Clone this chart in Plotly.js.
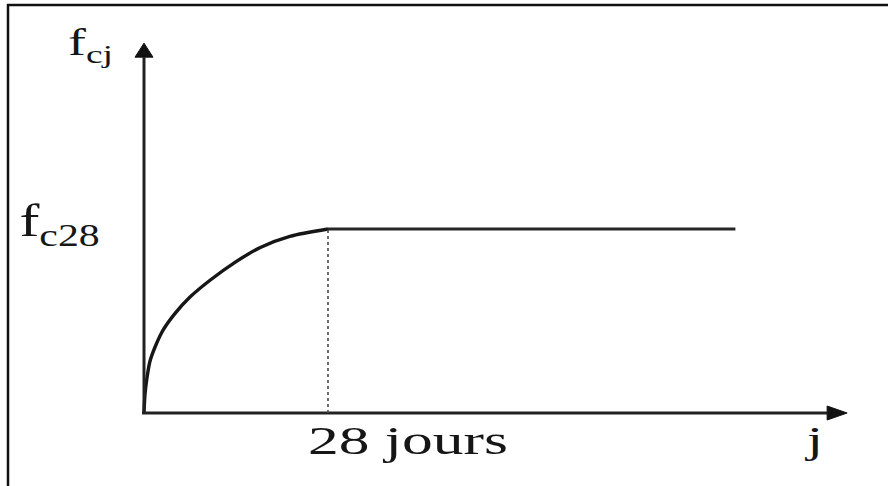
<!DOCTYPE html>
<html>
<head>
<meta charset="utf-8">
<script src="https://cdn.plot.ly/plotly-3.0.1.min.js"></script>
<style>
  html, body { margin: 0; padding: 0; background: #fff; }
  #chart { width: 888px; height: 486px; }
</style>
</head>
<body>
<div id="chart"></div>
<script>
// Concrete strength growth with age: fcj rises to fc28 at 28 days, then stays flat.
const days = [0, 0.15, 0.45, 0.9, 1.7, 2.9, 4.7, 7, 10, 13.9, 17.7, 22.2, 28, 90];
const fcjRatio = [0, 0.10, 0.19, 0.28, 0.36, 0.45, 0.54, 0.63, 0.72, 0.82, 0.90, 0.96, 1.0, 1.0];

const refDay = 28;          // age where fcj reaches fc28
const refValue = 1.0;       // fc28 (relative)
const xAxisEnd = 107;       // arrow tip of the age axis (days)
const yAxisEnd = 2.01;      // arrow tip of the strength axis

const yLabel = 'f<sub>cj</sub>';
const refLabel = 'f<sub>c28</sub>';
const refDayLabel = '28 jours';
const xLabel = 'j';

const ink = '#161616';
const axisInk = '#222';
const serif = 'Liberation Serif';

const W = 888, H = 486;
const xRange = [-21.913, 113.22];
const yRange = [-0.3967, 2.2446];
const pxX = W / (xRange[1] - xRange[0]);   // pixels per day
const pxY = H / (yRange[1] - yRange[0]);   // pixels per unit of fcj/fc28

const iRef = days.indexOf(refDay);

const rise = {
  x: days.slice(0, iRef + 1),
  y: fcjRatio.slice(0, iRef + 1),
  mode: 'lines',
  line: { color: ink, width: 3.4, shape: 'spline', smoothing: 0.8 },
  hoverinfo: 'skip'
};
const plateau = {
  x: days.slice(iRef),
  y: fcjRatio.slice(iRef),
  mode: 'lines',
  line: { color: '#262626', width: 3 },
  hoverinfo: 'skip'
};

// arrowhead sizes in pixels, converted to axis units
const xHeadLen = 20 / pxX, xHeadHalf = 7 / pxY;
const yHeadLen = 14 / pxY, yHeadHalf = 9 / pxX;

function tri(ax, ay, bx, by, cx, cy) {
  return 'M' + ax + ',' + ay + ' L' + bx + ',' + by + ' L' + cx + ',' + cy + ' Z';
}

// horizontal stretch applied to each label after drawing
const stretch = [1.45, 1.3, 1.5, 1.5];

const annotations = [
  { x: 0, y: yAxisEnd, xanchor: 'right', yanchor: 'middle', xshift: -29, yshift: -2,
    text: yLabel, showarrow: false, font: { family: serif, size: 37, color: ink } },
  { x: 0, y: refValue, xanchor: 'right', yanchor: 'middle', xshift: -42, yshift: 5,
    text: refLabel, showarrow: false, font: { family: serif, size: 46, color: ink } },
  { x: refDay, y: 0, xanchor: 'left', yanchor: 'middle', xshift: -22, yshift: -27,
    text: refDayLabel, showarrow: false, font: { family: serif, size: 41, color: ink } },
  { x: xAxisEnd, y: 0, xanchor: 'center', yanchor: 'middle', xshift: -34, yshift: -27,
    text: xLabel, showarrow: false, font: { family: serif, size: 39, color: ink } }
];

const layout = {
  width: W, height: H,
  margin: { l: 0, r: 0, t: 0, b: 0 },
  paper_bgcolor: '#fff', plot_bgcolor: '#fff',
  showlegend: false,
  font: { family: serif, size: 20, color: ink },
  xaxis: { range: xRange, visible: false, fixedrange: true },
  yaxis: { range: yRange, visible: false, fixedrange: true },
  shapes: [
    // axes
    { type: 'line', xref: 'x', yref: 'y', x0: -0.3, x1: xAxisEnd - xHeadLen, y0: 0, y1: 0,
      line: { color: axisInk, width: 3 } },
    { type: 'line', xref: 'x', yref: 'y', x0: 0, x1: 0, y0: 0, y1: yAxisEnd - yHeadLen,
      line: { color: axisInk, width: 3 } },
    { type: 'path', xref: 'x', yref: 'y',
      path: tri(xAxisEnd, 0, xAxisEnd - xHeadLen, xHeadHalf, xAxisEnd - xHeadLen, -xHeadHalf),
      fillcolor: '#111', line: { color: '#111', width: 1 } },
    { type: 'path', xref: 'x', yref: 'y',
      path: tri(0, yAxisEnd, -yHeadHalf, yAxisEnd - yHeadLen, yHeadHalf, yAxisEnd - yHeadLen),
      fillcolor: '#111', line: { color: '#111', width: 1 } },
    // 28-day guide
    { type: 'line', xref: 'x', yref: 'y', x0: refDay, x1: refDay, y0: 0, y1: refValue,
      line: { color: '#4a4a4a', width: 1.6, dash: 'dot' } },
    // frame
    { type: 'rect', xref: 'paper', yref: 'paper', x0: 8 / W, x1: 1.05, y0: -0.05, y1: 1 - 5 / H,
      line: { color: '#111', width: 2.5 } }
  ],
  annotations: annotations
};

const gd = document.getElementById('chart');
Plotly.newPlot(gd, [rise, plateau], layout, { staticPlot: true, displayModeBar: false }).then(function () {
  stretch.forEach(function (s, i) {
    const g = gd.querySelector('.annotation[data-index="' + i + '"]');
    if (!g) return;
    const t = g.querySelector('text.annotation-text');
    if (!t) return;
    const b = t.getBBox();
    const anchor = annotations[i].xanchor;
    const px = anchor === 'left' ? b.x : anchor === 'right' ? b.x + b.width : b.x + b.width / 2;
    const prev = t.getAttribute('transform') || '';
    t.setAttribute('transform', prev + ' translate(' + px + ',0) scale(' + s + ',1) translate(' + (-px) + ',0)');
  });
});
</script>
</body>
</html>
